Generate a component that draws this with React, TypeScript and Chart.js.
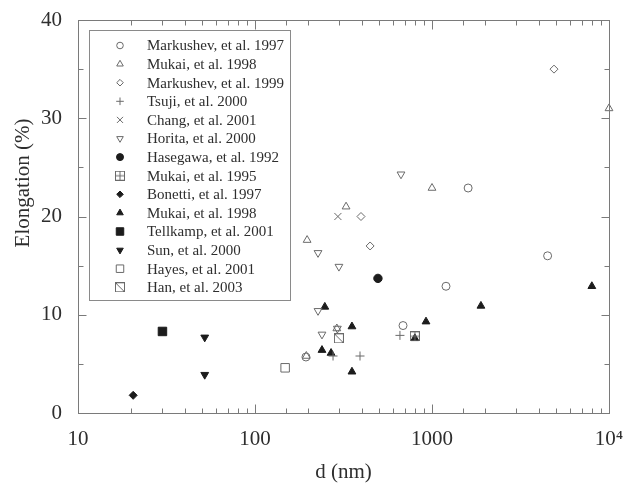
import React, { useEffect, useRef } from 'react';
import { Chart, registerables } from 'chart.js';
import { drawPoint } from 'chart.js/helpers';

Chart.register(...registerables);

// ---- data: [d (nm), elongation (%)] ----
const markushev1997 = [[194, 5.7], [686, 8.9], [1200, 12.9], [1600, 22.9], [4500, 16.0]];
const mukai1998Open = [[197, 17.6], [327, 21.0], [290, 8.6], [195, 5.8], [1000, 22.9], [10000, 31.0]];
const markushev1999 = [[397, 20.0], [447, 17.0], [4890, 35.0]];
const tsuji2000 = [[276, 5.8], [392, 5.8], [659, 7.9]];
const chang2001 = [[294, 20.0]];
const horita2000 = [[668, 24.3], [227, 16.3], [298, 14.9], [227, 10.4], [239, 8.0], [292, 8.6]];
const hasegawa1992 = [[495, 13.7]];
const mukai1995 = [[800, 7.8]];
const bonetti1997 = [[20.5, 1.8]];
const mukai1998Filled = [[248, 10.8], [353, 8.8], [239, 6.4], [269, 6.1], [353, 4.2], [800, 7.6], [925, 9.3], [1890, 10.9], [8000, 12.9]];
const tellkamp2001 = [[30, 8.3]];
const sun2000 = [[52, 7.7], [52, 3.9]];
const hayes2001 = [[148, 4.6]];
const han2003 = [[298, 7.6]];

const seriesLabels = [
  'Markushev, et al. 1997', 'Mukai, et al. 1998', 'Markushev, et al. 1999', 'Tsuji, et al. 2000',
  'Chang, et al. 2001', 'Horita, et al. 2000', 'Hasegawa, et al. 1992', 'Mukai, et al. 1995',
  'Bonetti, et al. 1997', 'Mukai, et al. 1998', 'Tellkamp, et al. 2001', 'Sun, et al. 2000',
  'Hayes, et al. 2001', 'Han, et al. 2003',
];
const seriesData = [
  markushev1997, mukai1998Open, markushev1999, tsuji2000, chang2001, horita2000, hasegawa1992,
  mukai1995, bonetti1997, mukai1998Filled, tellkamp2001, sun2000, hayes2001, han2003,
];
const xTickLabels: Record<number, string> = { 1: '10', 2: '100', 3: '1000', 4: '10\u2074' };
const yTickLabels = [0, 10, 20, 30, 40];

const OPEN = '#6a6a6a';
const FILLED = '#1c1c1c';
const TEXT = '#2e2e2e';
const FRAME = '#7a7a7a';
const FONT = "'Liberation Serif', 'Times New Roman', serif";

function boxCanvas(kind: 'plus' | 'diag'): HTMLCanvasElement {
  const c = document.createElement('canvas');
  c.width = 10; c.height = 10;
  const g = c.getContext('2d')!;
  g.strokeStyle = OPEN; g.lineWidth = 1;
  g.strokeRect(0.5, 0.5, 9, 9);
  g.beginPath();
  if (kind === 'plus') {
    g.moveTo(5, 0.5); g.lineTo(5, 9.5);
    g.moveTo(0.5, 5); g.lineTo(9.5, 5);
  } else {
    g.moveTo(0.5, 0.5); g.lineTo(9.5, 9.5);
  }
  g.stroke();
  return c;
}

export default function App() {
  const ref = useRef<HTMLCanvasElement>(null);
  useEffect(() => {
    const plusBox = boxCanvas('plus');
    const diagBox = boxCanvas('diag');
    const styles: any[] = [
      { pointStyle: 'circle', r: 4, fill: false },
      { pointStyle: 'triangle', r: 4.5, fill: false },
      { pointStyle: 'rectRot', r: 4, fill: false },
      { pointStyle: 'cross', r: 4.5, fill: false },
      { pointStyle: 'crossRot', r: 5, fill: false },
      { pointStyle: 'triangle', r: 4.5, fill: false, rot: 180 },
      { pointStyle: 'circle', r: 4.2, fill: true },
      { pointStyle: plusBox, r: 5, fill: false },
      { pointStyle: 'rectRot', r: 4, fill: true },
      { pointStyle: 'triangle', r: 4.5, fill: true },
      { pointStyle: 'rect', r: 6, fill: true },
      { pointStyle: 'triangle', r: 4.5, fill: true, rot: 180 },
      { pointStyle: 'rect', r: 6, fill: false },
      { pointStyle: diagBox, r: 5, fill: false },
    ];
    const datasets = seriesData.map((arr, i) => {
      const s = styles[i];
      return {
        label: seriesLabels[i],
        data: arr.map(([x, y]) => ({ x, y })),
        pointStyle: s.pointStyle,
        pointRadius: s.r,
        pointRotation: s.rot || 0,
        borderWidth: 1,
        backgroundColor: s.fill ? FILLED : 'rgba(0,0,0,0)',
        borderColor: s.fill ? FILLED : OPEN,
        clip: false as any,
      };
    });

    const framePlugin = {
      id: 'frame',
      afterDraw(chart: any) {
        const { ctx, chartArea: a, scales } = chart;
        const xs = scales.x, ys = scales.y;
        ctx.save();
        ctx.strokeStyle = FRAME;
        ctx.lineWidth = 1;
        const L = Math.round(a.left) + 0.5, R = Math.round(a.right) + 0.5;
        const T = Math.round(a.top) + 0.5, B = Math.round(a.bottom) + 0.5;
        ctx.strokeRect(L, T, R - L, B - T);
        ctx.beginPath();
        xs.ticks.forEach((t: any) => {
          const lg = Math.log10(t.value);
          const major = Math.abs(lg - Math.round(lg)) < 1e-6;
          const len = major ? 9 : 5;
          const px = Math.round(xs.getPixelForValue(t.value)) + 0.5;
          ctx.moveTo(px, B); ctx.lineTo(px, B - len);
          ctx.moveTo(px, T); ctx.lineTo(px, T + len);
        });
        for (let v = 0; v <= 40; v += 5) {
          const len = v % 10 === 0 ? 8 : 5;
          const py = Math.round(ys.getPixelForValue(v)) + 0.5;
          ctx.moveTo(L, py); ctx.lineTo(L + len, py);
          ctx.moveTo(R, py); ctx.lineTo(R - len, py);
        }
        ctx.stroke();

        // y-axis title
        ctx.save();
        ctx.translate(23, 183);
        ctx.rotate(-Math.PI / 2);
        ctx.fillStyle = TEXT;
        ctx.font = `21px ${FONT}`;
        ctx.textAlign = 'center';
        ctx.textBaseline = 'middle';
        ctx.fillText('Elongation (%)', 0, 0);
        ctx.restore();

        // legend
        const bx = 89.5, by = 30.5, bw = 201, bh = 270;
        ctx.fillStyle = '#ffffff';
        ctx.fillRect(bx, by, bw, bh);
        ctx.strokeStyle = '#8a8a8a';
        ctx.strokeRect(bx, by, bw, bh);
        ctx.font = `15px ${FONT}`;
        ctx.textAlign = 'left';
        ctx.textBaseline = 'middle';
        chart.data.datasets.forEach((ds: any, i: number) => {
          const y = 45.5 + i * 18.6;
          ctx.fillStyle = ds.backgroundColor;
          ctx.strokeStyle = ds.borderColor;
          ctx.lineWidth = 1;
          drawPoint(ctx, {
            pointStyle: ds.pointStyle,
            rotation: ds.pointRotation,
            radius: Math.max(ds.pointRadius - 0.7, 3),
            borderWidth: 1,
          } as any, 120, y);
          ctx.fillStyle = TEXT;
          ctx.fillText(ds.label, 147, y + 1);
        });
        ctx.restore();
      },
    };

    const chart = new Chart(ref.current!, {
      type: 'scatter',
      data: { datasets },
      options: {
        animation: false,
        responsive: false,
        devicePixelRatio: 1,
        layout: { padding: { left: 0, top: 20, right: 15, bottom: 0 } },
        plugins: { legend: { display: false }, tooltip: { enabled: false } },
        scales: {
          x: {
            type: 'logarithmic',
            position: 'bottom',
            min: 10,
            max: 10000,
            grid: { display: false, drawTicks: false },
            border: { display: false },
            ticks: {
              autoSkip: false,
              maxRotation: 0,
              padding: 14,
              color: TEXT,
              font: { family: FONT, size: 21 },
              callback: (v: any) => {
                const lg = Math.log10(Number(v));
                return Math.abs(lg - Math.round(lg)) < 1e-6 ? (xTickLabels[Math.round(lg)] ?? '') : '';
              },
            },
            title: { display: true, text: 'd (nm)', color: TEXT, font: { family: FONT, size: 21 }, padding: 0 },
            afterFit: (s: any) => { s.height = 72; s.paddingLeft = 0; s.paddingRight = 0; },
          } as any,
          y: {
            type: 'linear',
            min: 0,
            max: 40,
            grid: { display: false, drawTicks: false },
            border: { display: false },
            ticks: {
              stepSize: 5,
              padding: 16,
              color: TEXT,
              font: { family: FONT, size: 21 },
              callback: (v: any) => (yTickLabels.includes(Number(v)) ? String(v) : ''),
            },
            afterFit: (s: any) => { s.width = 78; s.paddingTop = 0; s.paddingBottom = 0; },
          } as any,
        },
      },
      plugins: [framePlugin],
    });
    return () => chart.destroy();
  }, []);

  return (
    <div style={{ position: 'fixed', left: 0, top: 0, width: 624, height: 485, background: '#fff' }}>
      <canvas ref={ref} width={624} height={485} style={{ display: 'block' }} />
    </div>
  );
}
